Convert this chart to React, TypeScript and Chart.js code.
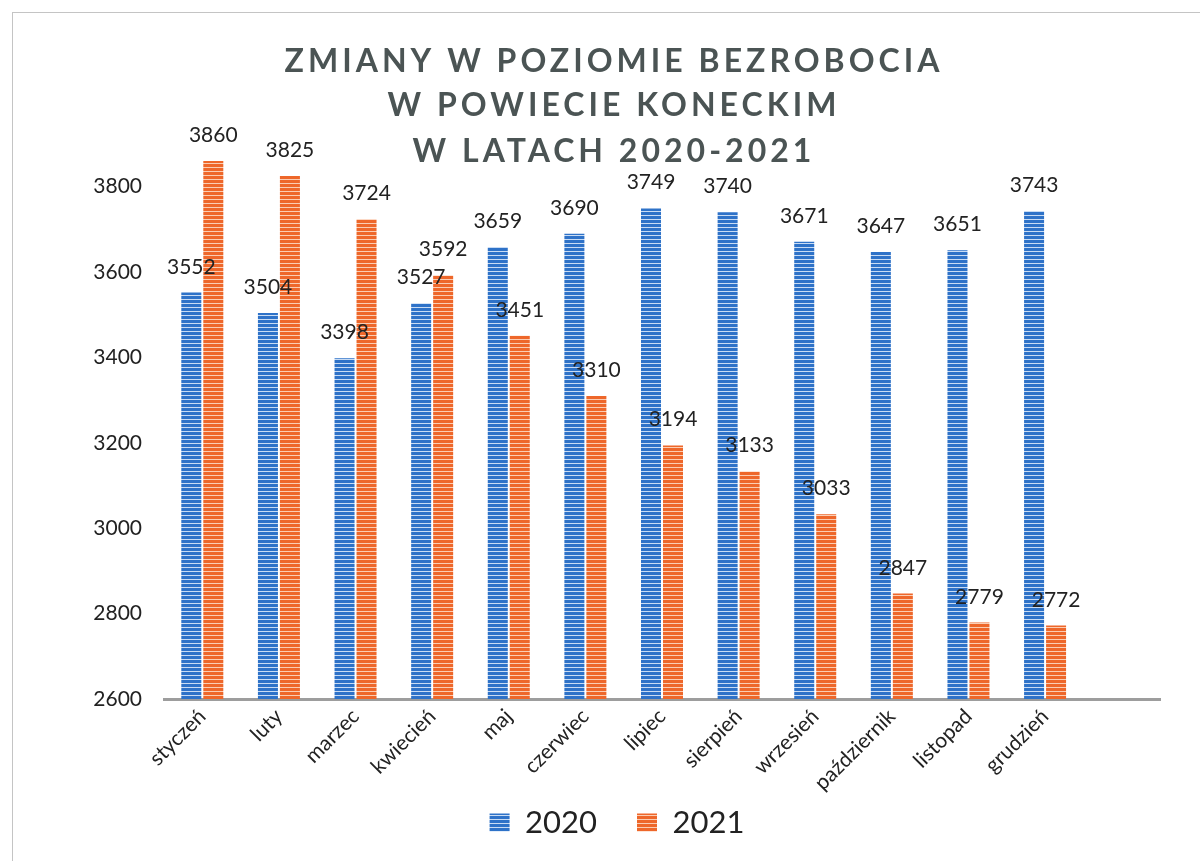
import React, { useEffect, useRef } from 'react';
import { Chart, registerables } from 'chart.js';

Chart.register(...registerables);

const months = ['styczeń', 'luty', 'marzec', 'kwiecień', 'maj', 'czerwiec', 'lipiec', 'sierpień', 'wrzesień', 'październik', 'listopad', 'grudzień'];
const categories = [...months, ''];
const values2020 = [3552, 3504, 3398, 3527, 3659, 3690, 3749, 3740, 3671, 3647, 3651, 3743];
const values2021 = [3860, 3825, 3724, 3592, 3451, 3310, 3194, 3133, 3033, 2847, 2779, 2772];
const seriesNames = ['2020', '2021'];
const yTickValues = [2600, 2800, 3000, 3200, 3400, 3600, 3800];
const yMin = 2600;
const yMax = 3900;
const titleLines = ['ZMIANY W POZIOMIE BEZROBOCIA', 'W POWIECIE KONECKIM', 'W LATACH 2020-2021'];

function stripePattern(main: string, light: string): CanvasPattern | string {
  const c = document.createElement('canvas');
  c.width = 4;
  c.height = 4;
  const g = c.getContext('2d');
  if (!g) return main;
  g.fillStyle = main;
  g.fillRect(0, 0, 4, 4);
  g.fillStyle = light;
  g.fillRect(0, 3, 4, 1);
  const p = g.createPattern(c, 'repeat');
  return p || main;
}

const titlePlugin = {
  id: 'customTitle',
  afterDraw(chart: any) {
    const ctx = chart.ctx as CanvasRenderingContext2D;
    ctx.save();
    ctx.font = 'bold 32px Lato';
    ctx.fillStyle = '#4b5454';
    ctx.textAlign = 'center';
    ctx.textBaseline = 'middle';
    (ctx as any).letterSpacing = '0px';
    const w0 = ctx.measureText(titleLines[0]).width;
    const sp = Math.max(0, (655 - w0) / (titleLines[0].length - 1));
    (ctx as any).letterSpacing = sp + 'px';
    const ys = [62, 106, 152];
    titleLines.forEach((t, i) => ctx.fillText(t, 612 + sp / 2, ys[i]));
    (ctx as any).letterSpacing = '0px';
    ctx.restore();
  },
};

const valueLabelPlugin = {
  id: 'valueLabels',
  afterDatasetsDraw(chart: any) {
    const ctx = chart.ctx as CanvasRenderingContext2D;
    ctx.save();
    ctx.font = '21px Lato';
    ctx.fillStyle = '#222';
    ctx.textAlign = 'center';
    ctx.textBaseline = 'alphabetic';
    chart.data.datasets.forEach((ds: any, di: number) => {
      const meta = chart.getDatasetMeta(di);
      meta.data.forEach((bar: any, i: number) => {
        const v = ds.data[i];
        if (v == null) return;
        ctx.fillText(String(v), bar.x, bar.y - 19);
      });
    });
    ctx.restore();
  },
};

// let the rotated category labels extend below the axis box without clipping
const extendXAxisPlugin = {
  id: 'extendXAxis',
  afterLayout(chart: any) {
    const x = chart.scales.x;
    if (x) x.bottom = chart.height;
  },
};

export default function App() {
  const ref = useRef<HTMLCanvasElement | null>(null);

  useEffect(() => {
    if (!ref.current) return;
    const blue = stripePattern('#2e72c8', '#c9dcf4');
    const orange = stripePattern('#ee672a', '#fbcdb3');
    const chart = new Chart(ref.current, {
      type: 'bar',
      data: {
        labels: categories,
        datasets: [
          { label: seriesNames[0], data: values2020, backgroundColor: blue as any, borderWidth: 0, barPercentage: 0.91, categoryPercentage: 0.574 },
          { label: seriesNames[1], data: values2021, backgroundColor: orange as any, borderWidth: 0, barPercentage: 0.91, categoryPercentage: 0.574 },
        ],
      },
      options: {
        animation: false,
        responsive: false,
        layout: { padding: { top: 144, left: 74, right: 40, bottom: 13 } },
        plugins: {
          title: { display: false },
          tooltip: { enabled: false },
          legend: {
            display: true,
            position: 'bottom',
            labels: {
              font: { family: 'Lato', size: 31 },
              color: '#222',
              boxWidth: 20,
              boxHeight: 18,
              padding: 40,
            },
          },
        },
        scales: {
          x: {
            grid: { display: false },
            border: { display: true, color: '#9d9d9d', width: 3 },
            ticks: {
              font: { family: 'Lato', size: 21 },
              color: '#222',
              minRotation: 45,
              maxRotation: 45,
              autoSkip: false,
              padding: -3,
            },
            afterFit: (s: any) => { s.height = 68; },
          },
          y: {
            min: yMin,
            max: yMax,
            grid: { display: false },
            border: { display: false },
            ticks: {
              stepSize: 200,
              font: { family: 'Lato', size: 21 },
              color: '#222',
              padding: 14,
              callback: (v: any) => String(v),
            },
            afterBuildTicks: (s: any) => {
              s.ticks = yTickValues.map((v) => ({ value: v }));
            },
            afterFit: (s: any) => { s.width = 90; },
          },
        },
      },
      plugins: [titlePlugin, valueLabelPlugin, extendXAxisPlugin],
    });
    return () => chart.destroy();
  }, []);

  return (
    <div style={{ position: 'fixed', left: 0, top: 0, width: 1200, height: 861, background: '#fff', overflow: 'hidden' }}>
      <div style={{ position: 'absolute', left: 12, top: 12, right: -2, bottom: -2, borderTop: '1px solid #c4c4c4', borderLeft: '1px solid #c4c4c4' }} />
      <canvas ref={ref} width={1200} height={861} style={{ position: 'absolute', left: 0, top: 0, display: 'block' }} />
    </div>
  );
}
